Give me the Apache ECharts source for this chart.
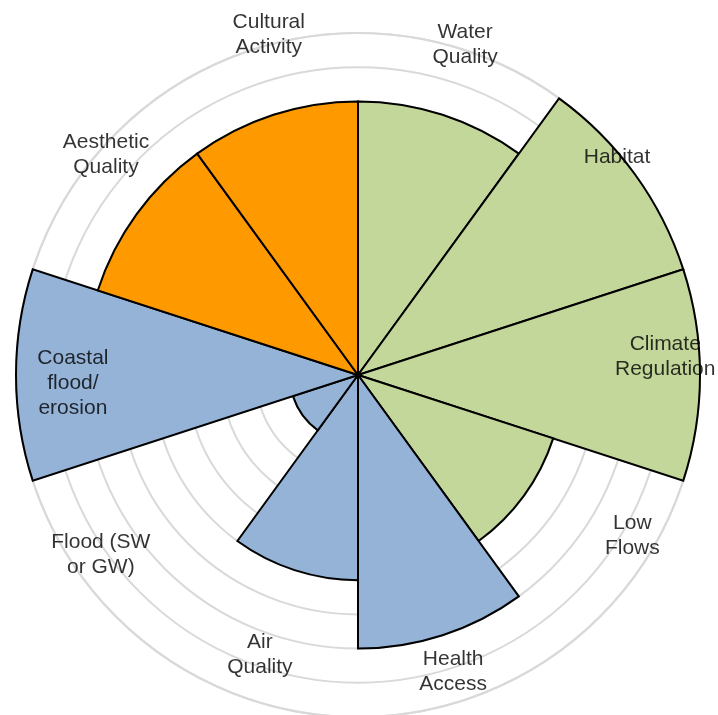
<!DOCTYPE html>
<html>
<head>
<meta charset="utf-8">
<title>Ecosystem services rose</title>
<script src="https://cdn.jsdelivr.net/npm/echarts@6/dist/echarts.min.js"></script>
<style>
  html, body { margin: 0; padding: 0; background: #ffffff; }
  #chart { width: 718px; height: 715px; }
</style>
</head>
<body>
<div id="chart"></div>
<script>
// Service categories, clockwise from the top
const categories = [
  'Water\nQuality', 'Habitat', 'Climate\nRegulation', 'Low\nFlows',
  'Health\nAccess', 'Air\nQuality', 'Flood (SW\nor GW)', 'Coastal\nflood/\nerosion',
  'Aesthetic\nQuality', 'Cultural\nActivity'
];
// Score for each service
const scores = [4, 5, 5, 3, 4, 3, 1, 5, 4, 4];
// Service group of each category
const groups = [
  'natural', 'natural', 'natural', 'natural',
  'health', 'health', 'health', 'health',
  'cultural', 'cultural'
];
// Radial ticks (score rings)
const ringMax = 5;
const ringStep = 0.5;

const groupColors = { natural: '#C4D79B', health: '#95B3D7', cultural: '#FF9900' };

// Where each label sits: [radius in score units, bearing in degrees]
const labelSpots = [
  [5.07, 18.0], [4.95, 49.9], [4.50, 86.5], [4.65, 120.4], [4.55, 162.2],
  [4.34, 199.3], [4.59, 235.0], [4.17, 268.4], [4.89, 311.1], [5.14, 345.3]
];

const FONT = '"Liberation Sans", Arial, Helvetica, sans-serif';
const center = [358, 375];
const outerRadius = 342;
// The label layer reaches a little past the outer ring
const labelMax = 6;

const chart = echarts.init(document.getElementById('chart'), null, { renderer: 'canvas' });

const option = {
  backgroundColor: '#ffffff',
  animation: false,
  polar: [
    { center: center, radius: outerRadius },
    { center: center, radius: outerRadius * labelMax / ringMax }
  ],
  angleAxis: [
    {
      polarIndex: 0,
      type: 'category',
      data: categories,
      startAngle: 90,
      clockwise: true,
      boundaryGap: true,
      axisLine: { show: true, lineStyle: { color: '#D9D9D9', width: 2 } },
      axisTick: { show: false },
      axisLabel: { show: false },
      splitLine: { show: false }
    },
    {
      polarIndex: 1,
      type: 'value',
      min: 0,
      max: 360,
      startAngle: 90,
      clockwise: true,
      axisLine: { show: false },
      axisTick: { show: false },
      axisLabel: { show: false },
      splitLine: { show: false }
    }
  ],
  radiusAxis: [
    {
      polarIndex: 0,
      type: 'value',
      min: 0,
      max: ringMax,
      interval: ringStep,
      axisLine: { show: false },
      axisTick: { show: false },
      axisLabel: { show: false },
      splitLine: { show: true, lineStyle: { color: '#D9D9D9', width: 2 } }
    },
    {
      polarIndex: 1,
      type: 'value',
      min: 0,
      max: labelMax,
      axisLine: { show: false },
      axisTick: { show: false },
      axisLabel: { show: false },
      splitLine: { show: false }
    }
  ],
  series: [
    {
      type: 'bar',
      coordinateSystem: 'polar',
      polarIndex: 0,
      barCategoryGap: '0%',
      data: scores.map((v, i) => ({
        value: v,
        itemStyle: {
          color: groupColors[groups[i]],
          borderColor: '#000000',
          borderWidth: 2
        }
      })),
      z: 2
    },
    {
      type: 'scatter',
      coordinateSystem: 'polar',
      polarIndex: 1,
      symbolSize: 1,
      itemStyle: { color: 'rgba(0,0,0,0)' },
      silent: true,
      clip: false,
      data: categories.map((name, i) => ({
        name: name,
        value: labelSpots[i]
      })),
      label: {
        show: true,
        position: 'inside',
        formatter: p => p.name,
        color: '#000000',
        fontFamily: FONT,
        fontSize: 21,
        lineHeight: 25,
        align: 'center',
        verticalAlign: 'middle'
      },
      z: 5
    }
  ]
};

chart.setOption(option);
</script>
</body>
</html>
